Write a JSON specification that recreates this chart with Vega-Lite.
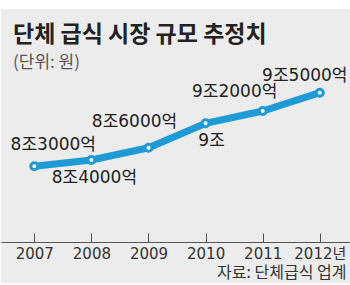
{
  "$schema": "https://vega.github.io/schema/vega-lite/v6.json",
  "width": 349,
  "height": 274,
  "autosize": "none",
  "padding": {"top": 9, "left": 1, "right": 0, "bottom": 2},
  "background": "#ffffff",
  "config": {
    "view": {"fill": "#ececec", "stroke": null},
    "font": "Noto Sans CJK KR"
  },
  "title": {
    "text": "단체 급식 시장 규모 추정치",
    "subtitle": "(단위: 원)",
    "anchor": "start",
    "frame": "group",
    "orient": "top",
    "offset": -62,
    "dx": 12,
    "font": "Noto Sans CJK KR",
    "fontSize": 23,
    "fontWeight": "bold",
    "color": "#222222",
    "subtitleFont": "Noto Sans CJK KR",
    "subtitleFontSize": 17,
    "subtitleColor": "#555555",
    "subtitlePadding": 8
  },
  "data": {
    "values": [
      {"year": 2007, "value": 8.3, "label": "8조3000억"},
      {"year": 2008, "value": 8.4, "label": "8조4000억"},
      {"year": 2009, "value": 8.6, "label": "8조6000억"},
      {"year": 2010, "value": 9.0, "label": "9조"},
      {"year": 2011, "value": 9.2, "label": "9조2000억"},
      {"year": 2012, "value": 9.5, "label": "9조5000억"}
    ]
  },
  "encoding": {
    "x": {
      "field": "year",
      "type": "quantitative",
      "scale": {"domain": [2006.4168, 2012.529], "nice": false, "zero": false},
      "axis": {
        "values": [2007, 2008, 2009, 2010, 2011, 2012],
        "format": "d",
        "labelExpr": "datum.value == 2012 ? '2012년' : datum.label",
        "grid": false,
        "offset": -41,
        "tickSize": -9,
        "tickColor": "#555555",
        "domainColor": "#555555",
        "labelFont": "DejaVu Sans, Noto Sans CJK KR",
        "labelFontSize": 15,
        "labelColor": "#333333",
        "labelPadding": 13,
        "labelOverlap": false,
        "labelFlush": false,
        "labelBound": false,
        "title": "자료: 단체급식 업계",
        "titleFont": "Noto Sans CJK KR",
        "titleFontSize": 16,
        "titleFontWeight": "normal",
        "titleColor": "#333333",
        "titleAnchor": "end",
        "titleAlign": "right",
        "titleX": 345,
        "titlePadding": 3
      }
    },
    "y": {
      "field": "value",
      "type": "quantitative",
      "scale": {"domain": [6.3925, 10.866], "nice": false, "zero": false},
      "axis": null
    }
  },
  "layer": [
    {"mark": {"type": "line", "color": "#1e9ad6", "strokeWidth": 7}},
    {"mark": {"type": "point", "shape": "circle", "filled": true, "fill": "#ffffff", "stroke": "#1e9ad6", "strokeWidth": 3, "size": 49, "opacity": 1}},
    {
      "transform": [{"filter": "datum.year == 2007"}],
      "mark": {"type": "text", "font": "DejaVu Sans, Noto Sans CJK KR", "fontSize": 17, "color": "#222222", "dx": 19, "dy": -21},
      "encoding": {"text": {"field": "label"}}
    },
    {
      "transform": [{"filter": "datum.year == 2008"}],
      "mark": {"type": "text", "font": "DejaVu Sans, Noto Sans CJK KR", "fontSize": 17, "color": "#222222", "dx": 3, "dy": 18},
      "encoding": {"text": {"field": "label"}}
    },
    {
      "transform": [{"filter": "datum.year == 2009"}],
      "mark": {"type": "text", "font": "DejaVu Sans, Noto Sans CJK KR", "fontSize": 17, "color": "#222222", "dx": -14, "dy": -26},
      "encoding": {"text": {"field": "label"}}
    },
    {
      "transform": [{"filter": "datum.year == 2010"}],
      "mark": {"type": "text", "font": "DejaVu Sans, Noto Sans CJK KR", "fontSize": 17, "color": "#222222", "dx": 6, "dy": 18},
      "encoding": {"text": {"field": "label"}}
    },
    {
      "transform": [{"filter": "datum.year == 2011"}],
      "mark": {"type": "text", "font": "DejaVu Sans, Noto Sans CJK KR", "fontSize": 17, "color": "#222222", "dx": -28, "dy": -19},
      "encoding": {"text": {"field": "label"}}
    },
    {
      "transform": [{"filter": "datum.year == 2012"}],
      "mark": {"type": "text", "font": "DejaVu Sans, Noto Sans CJK KR", "fontSize": 17, "color": "#222222", "dx": -15, "dy": -17},
      "encoding": {"text": {"field": "label"}}
    }
  ]
}
